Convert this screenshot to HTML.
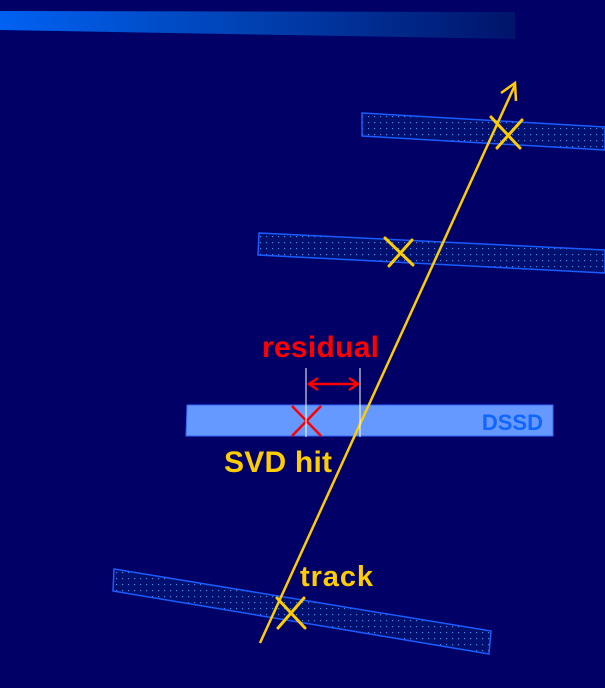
<!DOCTYPE html>
<html><head><meta charset="utf-8"><style>
body{margin:0;background:#000066;width:605px;height:688px;overflow:hidden}
svg{display:block}
text{font-family:"Liberation Sans",sans-serif;font-weight:bold}
</style></head><body>
<svg width="605" height="688" viewBox="0 0 605 688">
<defs>
<linearGradient id="tg" x1="0" x2="1" y1="0" y2="0"><stop offset="0" stop-color="#0062f2"/><stop offset="0.5" stop-color="#0040b0"/><stop offset="1" stop-color="#00146a"/></linearGradient>
<pattern id="dots" width="6" height="6" patternUnits="userSpaceOnUse"><rect width="6" height="6" fill="#00106e"/><rect x="2" y="2" width="1.2" height="1.2" fill="#4f7fe0"/></pattern>
</defs>
<rect width="605" height="688" fill="#000066"/>
<polygon points="0,11 515,12 515,39 0,30" fill="url(#tg)"/>
<g stroke="#1a5cff" stroke-width="1.5" fill="url(#dots)">
<polygon points="362,113 605,127 605,150 362,136"/>
<polygon points="259,233 605,250 605,273 258,255"/>
<polygon points="114,569 491,631 489,654 113,591"/>
</g>
<polygon points="187,405 553,405 553,436 186,436" fill="#6699ff" stroke="#3366ff"/>
<text x="543" y="430" font-size="22" fill="#1166ff" text-anchor="end">DSSD</text>
<g stroke="#ffcc00" stroke-width="3" stroke-linecap="round">
<line x1="491" y1="117" x2="520" y2="148"/>
<line x1="522" y1="120" x2="497" y2="148"/>
<line x1="385" y1="238" x2="413" y2="265"/>
<line x1="412" y1="240" x2="389" y2="266"/>
<line x1="277" y1="598" x2="305" y2="628"/>
<line x1="304" y1="598" x2="278" y2="628"/>
</g>
<g stroke="#ffcc00" stroke-width="2.5" fill="none">
<line x1="260" y1="643" x2="515" y2="85"/>
<polyline points="501,93 515,83 516,101"/>
</g>
<g stroke="#ff0000" stroke-width="2.5">
<line x1="292" y1="406" x2="321" y2="436"/><line x1="321" y1="406" x2="292" y2="436"/>
</g>
<g stroke="#ffffff" stroke-width="1">
<line x1="306" y1="368" x2="306" y2="437"/><line x1="360" y1="368" x2="360" y2="437"/>
</g>
<g stroke="#ff0000" stroke-width="2.5" fill="none">
<line x1="310" y1="384" x2="357" y2="384"/>
<polyline points="318,378 309,384 318,390"/><polyline points="349,378 358,384 349,390"/>
</g>
<text x="262" y="357" font-size="30" textLength="117" fill="#ff0000">residual</text>
<text x="224" y="472" font-size="30" textLength="108" fill="#ffcc00">SVD hit</text>
<text x="300" y="586" font-size="29" textLength="73" fill="#ffcc00">track</text>
</svg>
</body></html>
